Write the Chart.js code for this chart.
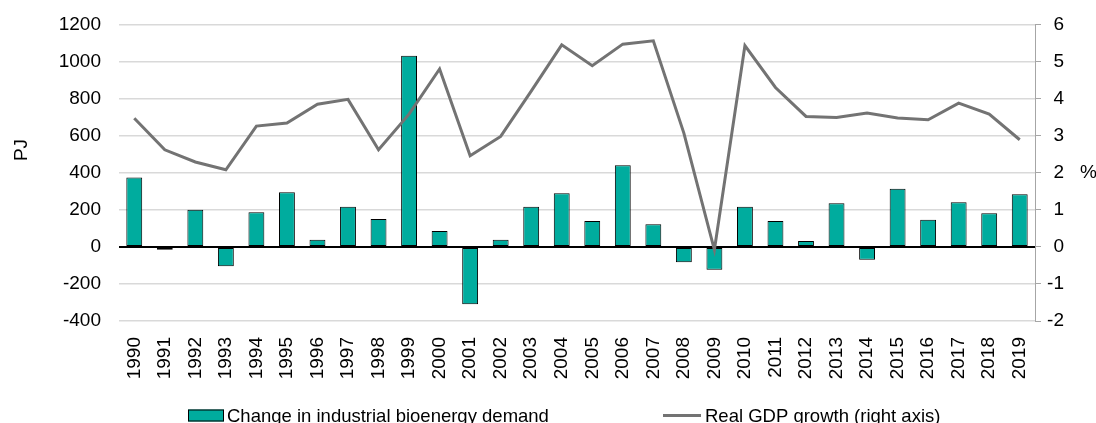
<!DOCTYPE html>
<html>
<head>
<meta charset="utf-8">
<script src="https://cdn.jsdelivr.net/npm/chart.js@4"></script>
<style>
  html, body { margin: 0; padding: 0; background: #fff; }
  #wrap { width: 1096px; height: 423px; }
</style>
</head>
<body>
<div id="wrap"><canvas id="c" width="1096" height="423"></canvas></div>
<script>
const years = ['1990','1991','1992','1993','1994','1995','1996','1997','1998','1999',
               '2000','2001','2002','2003','2004','2005','2006','2007','2008','2009',
               '2010','2011','2012','2013','2014','2015','2016','2017','2018','2019'];
const bioenergyChange = [375, -15, 200, -105, 187, 295, 38, 216, 151, 1032,
                         86, -309, 38, 216, 290, 140, 441, 122, -83, -124,
                         216, 140, 32, 236, -70, 313, 146, 241, 182, 284];
const gdpGrowth = [3.47, 2.62, 2.29, 2.08, 3.26, 3.34, 3.85, 3.98, 2.62, 3.58,
                   4.80, 2.46, 2.98, 4.20, 5.45, 4.89, 5.47, 5.56, 3.07, -0.08,
                   5.43, 4.30, 3.52, 3.49, 3.61, 3.48, 3.43, 3.88, 3.58, 2.89];
const leftAxisRange = [-400, 1200];
const rightAxisRange = [-2, 6];
const seriesNames = ['Change in industrial bioenergy demand', 'Real GDP growth (right axis)'];
const leftTitle = 'PJ';
const rightTitle = '%';

const FONT = "'Liberation Sans', Arial, sans-serif";
const BAR_COLOR = '#00AC9E';
const LINE_COLOR = '#737373';

const extrasPlugin = {
  id: 'extras',
  afterDraw(chart) {
    const ctx = chart.ctx;
    ctx.save();
    ctx.fillStyle = '#000';
    ctx.font = "19px " + FONT;
    // left axis title (rotated)
    ctx.save();
    ctx.translate(22, 150);
    ctx.rotate(-Math.PI / 2);
    ctx.textAlign = 'center';
    ctx.textBaseline = 'middle';
    ctx.fillText(leftTitle, 0, 0);
    ctx.restore();
    // right axis title
    ctx.textAlign = 'left';
    ctx.textBaseline = 'middle';
    ctx.fillText(rightTitle, 1080, 173);

    // legend
    const ly = 415.5;
    ctx.font = "18.5px " + FONT;
    ctx.fillStyle = BAR_COLOR;
    ctx.fillRect(188, ly - 6, 36, 12);
    ctx.strokeStyle = '#000';
    ctx.lineWidth = 1;
    ctx.strokeRect(188.5, ly - 5.5, 35, 11);
    ctx.fillStyle = '#000';
    ctx.textBaseline = 'alphabetic';
    ctx.fillText(seriesNames[0], 227, ly + 6.5);
    ctx.strokeStyle = LINE_COLOR;
    ctx.lineWidth = 3;
    ctx.beginPath();
    ctx.moveTo(663, ly);
    ctx.lineTo(701, ly);
    ctx.stroke();
    ctx.fillText(seriesNames[1], 705, ly + 6.5);
    ctx.restore();
  }
};

new Chart(document.getElementById('c'), {
  data: {
    labels: years,
    datasets: [
      {
        type: 'line',
        label: seriesNames[1],
        data: gdpGrowth,
        yAxisID: 'y1',
        borderColor: LINE_COLOR,
        borderWidth: 3,
        pointRadius: 0,
        tension: 0,
        fill: false,
        order: 0
      },
      {
        type: 'bar',
        label: seriesNames[0],
        data: bioenergyChange,
        yAxisID: 'y',
        backgroundColor: BAR_COLOR,
        borderColor: '#000',
        borderWidth: 1,
        borderSkipped: false,
        categoryPercentage: 1,
        barPercentage: 0.52,
        order: 1
      }
    ]
  },
  options: {
    responsive: false,
    animation: false,
    layout: { padding: { left: 59, right: 32, top: 24.5, bottom: 44 } },
    plugins: { legend: { display: false }, tooltip: { enabled: false } },
    scales: {
      x: {
        grid: { display: false, drawTicks: false },
        border: { display: false },
        ticks: {
          color: '#000',
          font: { family: FONT, size: 19 },
          minRotation: 90, maxRotation: 90,
          autoSkip: false,
          padding: 16
        },
        afterFit: s => { s.height = 58; }
      },
      y: {
        position: 'left',
        min: leftAxisRange[0], max: leftAxisRange[1],
        ticks: { stepSize: 200, color: '#000', font: { family: FONT, size: 19 }, padding: 4,
                 callback: v => String(v) },
        grid: {
          drawTicks: true,
          tickLength: 14,
          tickColor: 'rgba(0,0,0,0)',
          color: c => (c.tick && c.tick.value === 0) ? '#000' : '#d9d9d9',
          lineWidth: c => (c.tick && c.tick.value === 0) ? 2 : 1.5
        },
        border: { display: false },
        afterFit: s => { s.width = 60; }
      },
      y1: {
        position: 'right',
        min: rightAxisRange[0], max: rightAxisRange[1],
        ticks: { stepSize: 1, color: '#000', font: { family: FONT, size: 19 }, padding: 6, crossAlign: 'far',
                 callback: v => String(v) },
        grid: { drawOnChartArea: false, drawTicks: true, tickLength: 6, color: '#a6a6a6', lineWidth: 1 },
        border: { display: true, color: '#a6a6a6', width: 1 },
        afterFit: s => { s.width = 29; }
      }
    }
  },
  plugins: [extrasPlugin]
});
</script>
</body>
</html>
